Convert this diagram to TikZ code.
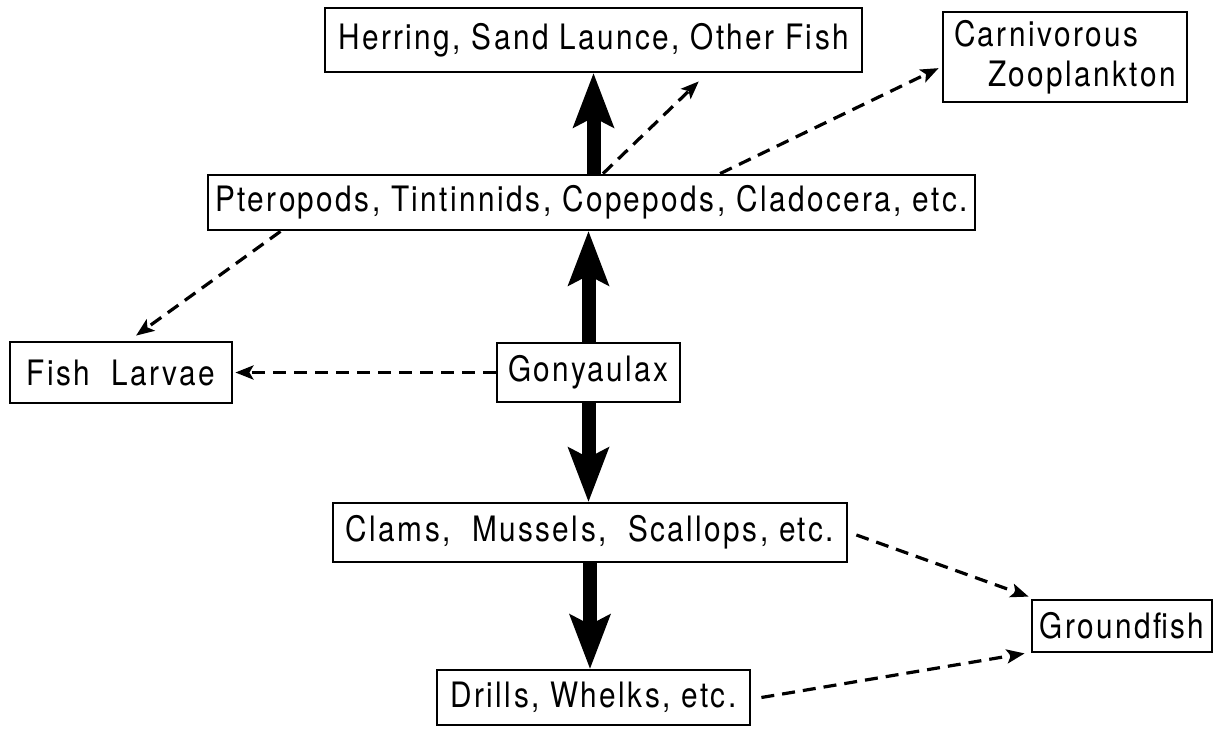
\documentclass[tikz,border=0pt]{standalone}
\usepackage{fontspec}
\setmainfont{TeX Gyre Heros}[FakeStretch=0.85, LetterSpace=7]
\usetikzlibrary{arrows.meta,calc}
\tikzset{
  box/.style={draw, line width=1.4pt, inner sep=3pt, font=\fontsize{17.5pt}{20pt}\selectfont},
  dasharrow/.style={line width=1.6pt, dash pattern=on 6.5pt off 4pt,
    -{Stealth[length=9pt,width=7pt,inset=2pt]}},
}
% thick filled arrow from coordinate #1 to coordinate #2
\newcommand\bigarrow[2]{%
  \path ($(#2)!27.5pt!(#1)$) coordinate (bb) ($(#2)!22pt!(#1)$) coordinate (bn);
  \draw[line width=7pt] (#1) -- (bn);
  \fill (#2) -- ($(bb)!10.5pt!90:(#2)$) -- (bn) -- ($(bb)!10.5pt!-90:(#2)$) -- cycle;
}
\begin{document}
\begin{tikzpicture}[x=0.5pt,y=-0.5pt]
\useasboundingbox (0,0) rectangle (1220,728);

\node[box, minimum width=268.5pt, minimum height=32pt] (herring) at (593.5,40) {Herring, Sand Launce, Other Fish};
\node[box, minimum width=122pt, minimum height=45pt, align=left] (carn) at (1065,57) {Carnivorous\\\hspace*{17pt}Zooplankton};
\node[box, minimum width=383.5pt, minimum height=27.5pt] (ptero) at (591.5,202.5) {Pteropods, Tintinnids, Copepods, Cladocera, etc.};
\node[box, minimum width=111pt, minimum height=30.5pt] (larvae) at (121,372.5) {Fish~~Larvae};
\node[box, minimum width=91.5pt, minimum height=29.5pt] (gony) at (588.5,372.5) {Gonyaulax};
\node[box, minimum width=257pt, minimum height=29.5pt] (clams) at (590,532.5) {Clams,~~Mussels,~~Scallops, etc.};
\node[box, minimum width=90pt, minimum height=26pt] (ground) at (1122,626) {Groundfish};
\node[box, minimum width=156.5pt, minimum height=27.5pt] (drills) at (593.5,697.5) {Drills, Whelks, etc.};

% thick arrows
\coordinate (a1s) at (ptero.north -| herring.south);
\coordinate (a1e) at (herring.south);
\bigarrow{a1s}{a1e}
\coordinate (a2s) at (gony.north);
\coordinate (a2e) at (gony.north |- ptero.south);
\bigarrow{a2s}{a2e}
\coordinate (a3s) at (gony.south);
\coordinate (a3e) at (gony.south |- clams.north);
\bigarrow{a3s}{a3e}
\coordinate (a4s) at (clams.south);
\coordinate (a4e) at (clams.south |- drills.north);
\bigarrow{a4s}{a4e}

% dashed arrows
\coordinate (d1s) at ($(ptero.north west)!0.515!(ptero.north east)$);
\coordinate (d1e) at ([yshift=-4pt]$(herring.south west)!0.695!(herring.south east)$);
\draw[dasharrow] (d1s) -- (d1e);
\coordinate (d2s) at ($(ptero.north west)!0.667!(ptero.north east)$);
\coordinate (d2e) at ([xshift=-1.5pt]$(carn.north west)!0.62!(carn.south west)$);
\draw[dasharrow] (d2s) -- (d2e);
\coordinate (d3s) at ($(ptero.south west)!0.096!(ptero.south east)$);
\coordinate (d3e) at ([yshift=2.5pt]$(larvae.north west)!0.567!(larvae.north east)$);
\draw[dasharrow] (d3s) -- (d3e);
\draw[dasharrow] (gony.west) -- ([xshift=1pt]larvae.east);
\coordinate (d5s) at ([xshift=4pt]$(clams.north east)!0.54!(clams.south east)$);
\coordinate (d5e) at ([xshift=-1pt,yshift=1pt]ground.north west);
\draw[dasharrow] (d5s) -- (d5e);
\coordinate (d6s) at ([xshift=5pt]drills.east);
\coordinate (d6e) at ([xshift=-3pt]ground.south west);
\draw[dasharrow] (d6s) -- (d6e);
\end{tikzpicture}
\end{document}
